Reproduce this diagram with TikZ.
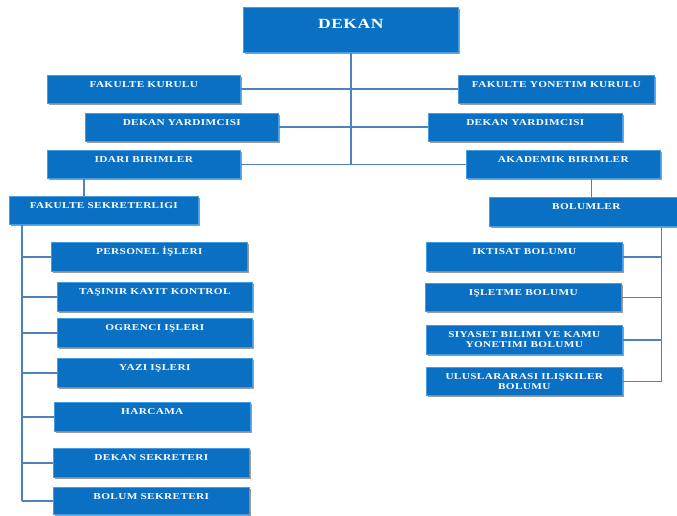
\documentclass[tikz,border=0pt]{standalone}
\usepackage{fontspec}
\setmainfont{Liberation Serif}[FakeStretch=1.25, LetterSpace=4]
\usetikzlibrary{shadows}
\definecolor{boxbase}{RGB}{10,112,196}
\definecolor{boxedge}{RGB}{70,155,225}
\definecolor{linec}{RGB}{79,129,189}
\tikzset{
  box/.style={fill=boxbase, draw=boxedge, line width=0.6pt, inner xsep=0pt, inner ysep=0pt,
    text=white, font=\bfseries\fontsize{9}{10}\selectfont, align=center,
    drop shadow={shadow xshift=1.2pt, shadow yshift=-1.5pt, fill=black!70, opacity=0.55}},
  conn/.style={draw=linec, line width=1.6pt}
}
\newcommand\obox[7][12]{%
  \pgfmathsetmacro\bw{#5-#3}\pgfmathsetmacro\bh{#6-#4}\pgfmathsetmacro\bd{\bh-#1}%
  \node[box, minimum width=\bw pt, minimum height=\bh pt, text height=#1pt, text depth=\bd pt, anchor=north west] (#2) at (#3pt,-#4pt) {#7};}
\newcommand\tbox[6]{%
  \pgfmathsetmacro\bw{#4-#2}\pgfmathsetmacro\bh{#5-#3}%
  \node[box, minimum width=\bw pt, minimum height=\bh pt, anchor=north west] (#1) at (#2pt,-#3pt) {#6};}
\begin{document}
\begin{tikzpicture}
\useasboundingbox (0,0) rectangle (677pt,-516pt);
\fill[white] (0,0) rectangle (677pt,-516pt);
% boxes
\obox[21]{dekan}{243}{7}{458}{52}{\fontsize{14}{16}\selectfont DEKAN}
\obox{fk}{47}{75}{240}{103}{FAKULTE KURULU}
\obox{fyk}{458}{75}{654}{103}{FAKULTE YONETIM KURULU}
\obox{dy1}{85}{113}{278}{141}{DEKAN YARDIMCISI}
\obox{dy2}{428}{113}{622}{141}{DEKAN YARDIMCISI}
\obox{idari}{47}{150}{240}{178}{IDARI BIRIMLER}
\obox{akad}{466}{150}{660}{178}{AKADEMIK BIRIMLER}
\obox{fs}{9}{196}{198}{224}{FAKULTE SEKRETERLIGI}
\obox{personel}{51}{242}{247}{271}{PERSONEL İŞLERI}
\obox{tasinir}{57}{282}{252}{311}{TAŞINIR KAYIT KONTROL}
\obox{ogrenci}{57}{318}{252}{347}{OGRENCI IŞLERI}
\obox{yazi}{57}{358}{252}{387}{YAZI IŞLERI}
\obox{harcama}{54}{402}{250}{431}{HARCAMA}
\obox{dekansek}{53}{448}{249}{477}{DEKAN SEKRETERI}
\obox{bolumsek}{53}{487}{249}{514}{BOLUM SEKRETERI}
\obox{bolumler}{489}{197}{683}{226}{BOLUMLER}
\obox{iktisat}{426}{242}{622}{271}{IKTISAT BOLUMU}
\obox{isletme}{425}{283}{621}{311}{IŞLETME BOLUMU}
\tbox{siyaset}{426}{325}{622}{354}{SIYASET BILIMI VE KAMU\\YONETIMI BOLUMU}
\tbox{ulus}{426}{367}{622}{395}{ULUSLARARASI ILIŞKILER\\BOLUMU}
% connectors
\draw[conn] (dekan.south) -- (dekan.south |- idari.east);
\draw[conn] (fk.east) -- (fyk.west);
\draw[conn] (dy1.east) -- (dy2.west);
\draw[conn] (idari.east) -- (akad.west);
\draw[conn] ([xshift=37pt]idari.south west) -- ([xshift=37pt]idari.south west |- fs.north);
\draw[conn] ([xshift=-69pt]akad.south east) -- ([xshift=-69pt]akad.south east |- bolumler.north);
\coordinate (lsp) at ([xshift=13pt]fs.south west);
\draw[conn] (lsp) -- (lsp |- bolumsek.west);
\foreach \n in {personel,tasinir,ogrenci,yazi,harcama,dekansek,bolumsek}
  \draw[conn] (\n.west) -- (\n.west -| lsp);
\coordinate (rsp) at ([xshift=-22pt]bolumler.south east);
\draw[conn] (rsp) -- (rsp |- ulus.east);
\foreach \n in {iktisat,isletme,siyaset,ulus}
  \draw[conn] (\n.east) -- (\n.east -| rsp);
\end{tikzpicture}
\end{document}
